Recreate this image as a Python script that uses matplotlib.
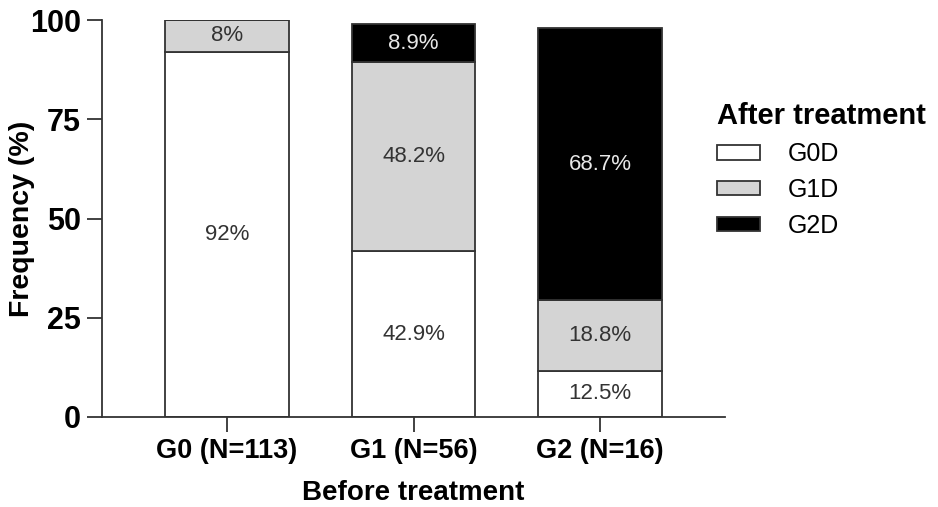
import numpy as np
import matplotlib
matplotlib.use("Agg")
import matplotlib.pyplot as plt

plt.rcParams['font.family'] = ['Liberation Sans', 'DejaVu Sans']

# data
groups = ["G0 (N=113)", "G1 (N=56)", "G2 (N=16)"]
series = ["G0D", "G1D", "G2D"]
g0d = [92.0, 41.8, 11.7]
g1d = [8.0, 47.7, 17.8]
g2d = [0.0, 9.4, 68.4]
g0d_lbl = ["92%", "42.9%", "12.5%"]
g1d_lbl = ["8%", "48.2%", "18.8%"]
g2d_lbl = ["", "8.9%", "68.7%"]

colors = ["white", "#d4d4d4", "black"]
txt_colors = ["#333333", "#333333", "#e8e8e8"]
edge = "#333333"

fig = plt.figure(figsize=(9.38, 5.07), dpi=100)
ax = fig.add_axes([102 / 938, 90 / 507, (725 - 102) / 938, (417 - 20) / 507])

x = np.arange(len(groups))
bottom = np.zeros(len(groups))
for vals, lbls, c, tc, name in zip([g0d, g1d, g2d], [g0d_lbl, g1d_lbl, g2d_lbl],
                                   colors, txt_colors, series):
    vals = np.array(vals)
    ax.bar(x, vals, width=0.66, bottom=bottom, color=c, edgecolor=edge,
           linewidth=1.3, label=name)
    for xi, b, v, t in zip(x, bottom, vals, lbls):
        if v > 0 and t:
            ax.text(xi, b + v / 2, t, ha="center", va="center",
                    fontsize=16, color=tc)
    bottom = bottom + vals

ax.set_xlim(-0.67, 2.67)
ax.set_ylim(0, 100)
ax.set_yticks([0, 25, 50, 75, 100])
ax.set_xticks(x)
ax.set_xticklabels(groups)
for s in ["top", "right"]:
    ax.spines[s].set_visible(False)
for s in ["left", "bottom"]:
    ax.spines[s].set_color(edge)
    ax.spines[s].set_linewidth(1.3)
ax.tick_params(axis="both", length=11, width=1.3, color=edge, pad=4)
ax.tick_params(axis="y", labelsize=22)
ax.tick_params(axis="x", labelsize=19.5)
for lab in ax.get_xticklabels() + ax.get_yticklabels():
    lab.set_fontweight("bold")

ax.set_ylabel("Frequency (%)", fontsize=20.5, fontweight="bold")
ax.yaxis.set_label_coords(-(102 - 35) / 623, 0.5)
ax.set_xlabel("Before treatment", fontsize=20, fontweight="bold", labelpad=12)

leg = fig.legend(loc="upper left", bbox_to_anchor=(704 / 938, 1 - 90 / 507),
                 frameon=False, fontsize=18, title="After treatment",
                 title_fontproperties={"weight": "bold", "size": 21},
                 handlelength=1.75, handleheight=0.5, handletextpad=1.1,
                 labelspacing=0.47, borderpad=0, alignment="left")
for h in leg.legend_handles:
    h.set_edgecolor(edge)
    h.set_linewidth(1.3)

fig.savefig("out.png", dpi=100)
